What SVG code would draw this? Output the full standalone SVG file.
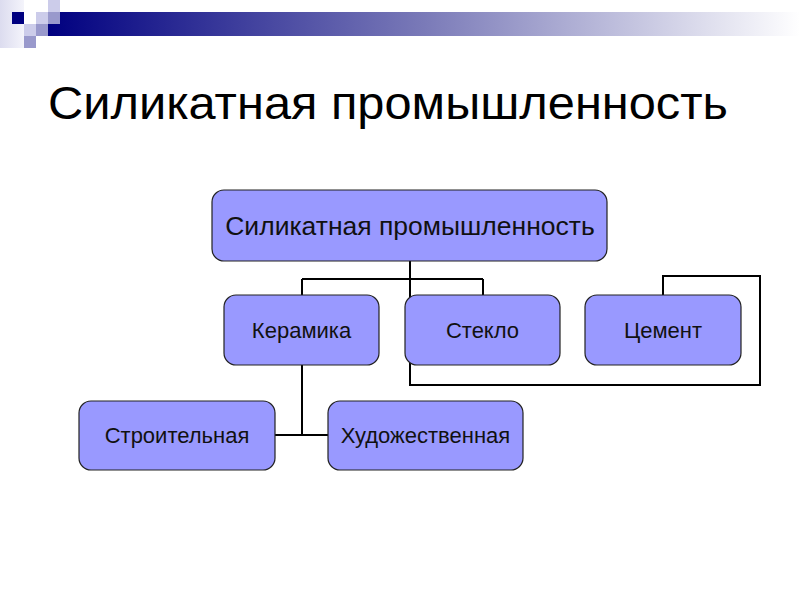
<svg xmlns="http://www.w3.org/2000/svg" width="800" height="600" viewBox="0 0 800 600">
<defs>
<linearGradient id="bar" x1="0" y1="0" x2="1" y2="0">
<stop offset="0" stop-color="#000080"/>
<stop offset="0.5" stop-color="#7a7ab8"/>
<stop offset="1" stop-color="#ffffff"/>
</linearGradient>
<linearGradient id="pale" x1="0" y1="0" x2="1" y2="0">
<stop offset="0" stop-color="#dcdcef"/>
<stop offset="1" stop-color="#f4f4fb"/>
</linearGradient>
<style>
.node rect{fill:#9999ff;stroke:#222;stroke-width:1.2}
.node text{font-family:"Liberation Sans",Arial,sans-serif;fill:#111;text-anchor:middle}
.lbl{font-size:22px}
#connectors path{fill:none;stroke:#000;stroke-width:2}
.dk{fill:#000080}.md{fill:#9999cc}.lt{fill:#ccccea}
</style>
</defs>
<rect width="800" height="600" fill="#fff"/>
<g id="decor">
<rect x="0" y="0" width="24" height="48" fill="url(#pale)"/>
<rect x="48" y="12" width="752" height="24" fill="url(#bar)"/>
<rect class="lt" x="48" y="0" width="12" height="12"/>
<rect class="dk" x="12" y="12" width="12" height="12"/>
<rect class="lt" x="36" y="12" width="12" height="12"/>
<rect class="md" x="48" y="12" width="12" height="12"/>
<rect class="lt" x="24" y="24" width="12" height="12"/>
<rect class="md" x="36" y="24" width="12" height="12"/>
<rect class="md" x="24" y="36" width="12" height="12"/>
</g>
<text x="48" y="119" font-family="Liberation Sans, Arial, sans-serif" font-size="47" fill="#000" textLength="680" lengthAdjust="spacingAndGlyphs">Силикатная промышленность</text>
<g id="connectors">
<path d="M410 261 V279 M302 279 H483 M302 279 V296 M483 279 V296"/>
<path d="M663 296 V276 H760 V385 H410 V279"/>
<path d="M302 365 V435 M275 435 H328"/>
</g>
<g id="n-root" class="node">
<rect x="212" y="190" width="395" height="71" rx="12"/>
<text x="410" y="235" font-size="26.5">Силикатная промышленность</text>
</g>
<g id="n-ceramics" class="node">
<rect x="224" y="295" width="155" height="70" rx="12"/>
<text class="lbl" x="301.5" y="338">Керамика</text>
</g>
<g id="n-glass" class="node">
<rect x="405" y="295" width="155" height="70" rx="12"/>
<text class="lbl" x="482.5" y="338">Стекло</text>
</g>
<g id="n-cement" class="node">
<rect x="585" y="295" width="156" height="70" rx="12"/>
<text class="lbl" x="663" y="338">Цемент</text>
</g>
<g id="n-building" class="node">
<rect x="79" y="401" width="196" height="69" rx="12"/>
<text class="lbl" x="177" y="443">Строительная</text>
</g>
<g id="n-art" class="node">
<rect x="328" y="401" width="195" height="69" rx="12"/>
<text class="lbl" x="425.5" y="443">Художественная</text>
</g>
</svg>
